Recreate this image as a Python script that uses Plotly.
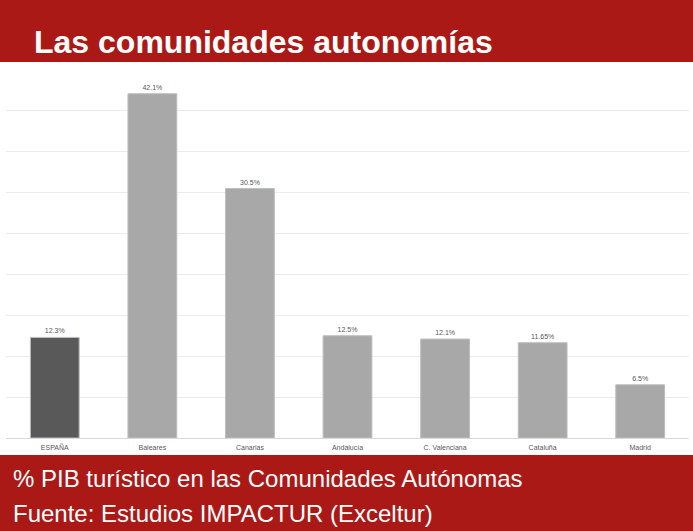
import plotly.graph_objects as go

categories = ["ESPAÑA", "Baleares", "Canarias", "Andalucía", "C. Valenciana", "Cataluña", "Madrid"]
values = [12.3, 42.1, 30.5, 12.5, 12.1, 11.65, 6.5]
labels = ["12.3%", "42.1%", "30.5%", "12.5%", "12.1%", "11.65%", "6.5%"]
bar_colors = ["#595959"] + ["#a8a8a8"] * 6

RED = "#ab1917"

fig = go.Figure()
fig.add_trace(go.Bar(
    x=categories, y=values, text=labels, textposition="outside",
    textfont=dict(size=7, color="#595959", family="Liberation Sans"),
    marker=dict(color=bar_colors, line=dict(color="#bdbdbd", width=1)),
    cliponaxis=False,
))

fig.update_layout(
    width=693, height=531,
    margin=dict(l=6, r=4, t=70, b=93),
    paper_bgcolor="white", plot_bgcolor="white",
    showlegend=False, bargap=0.5,
    font=dict(family="Liberation Sans"),
    xaxis=dict(showgrid=False, showline=True, linecolor="#d9d9d9", ticks="",
               ticklabelstandoff=3,
               tickfont=dict(size=7, color="#595959")),
    yaxis=dict(range=[0, 45], dtick=5, showticklabels=False, gridcolor="#ececec",
               gridwidth=1, zeroline=False),
    shapes=[
        dict(type="rect", xref="paper", yref="paper", x0=-0.05, x1=1.05,
             y0=(438 - 62) / 368, y1=(438 + 5) / 368,
             fillcolor=RED, line=dict(width=0), layer="above"),
        dict(type="rect", xref="paper", yref="paper", x0=-0.05, x1=1.05,
             y0=-100 / 368, y1=-(455 - 438) / 368,
             fillcolor=RED, line=dict(width=0), layer="above"),
    ],
    annotations=[
        dict(text="<b>Las comunidades autonomías</b>", xref="paper", yref="paper",
             x=(32 - 6) / 683, y=(438 - 42) / 368, xanchor="left", yanchor="middle",
             showarrow=False, font=dict(size=32, color="white", family="Liberation Sans")),
        dict(text="% PIB turístico en las Comunidades Autónomas", xref="paper", yref="paper",
             x=(11 - 6) / 683, y=(438 - 479) / 368, xanchor="left", yanchor="middle",
             showarrow=False, font=dict(size=24, color="white", family="Liberation Sans")),
        dict(text="Fuente: Estudios IMPACTUR (Exceltur)", xref="paper", yref="paper",
             x=(11 - 6) / 683, y=(438 - 513) / 368, xanchor="left", yanchor="middle",
             showarrow=False, font=dict(size=24, color="white", family="Liberation Sans")),
    ],
)

fig.write_html("out.html", config={"displayModeBar": False},
               post_script="document.body.style.margin='0';document.body.style.overflow='hidden';")
